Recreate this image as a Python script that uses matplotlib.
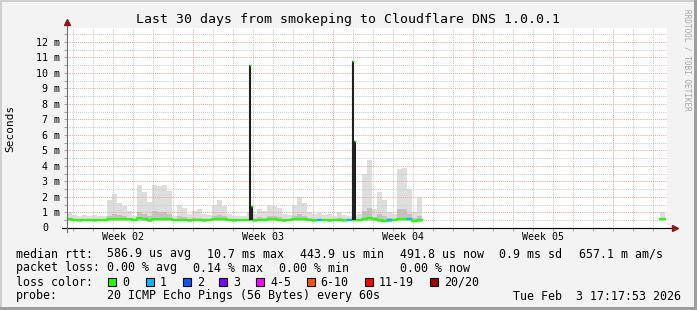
import numpy as np
import pandas as pd
import matplotlib
matplotlib.use("Agg")
import matplotlib.pyplot as plt
import matplotlib.dates as mdates
from matplotlib.patches import Rectangle
from matplotlib.ticker import MultipleLocator, FuncFormatter

MONO = "DejaVu Sans Mono"

# graph window
t_start = "2026-01-04 17:17:53"
t_end = "2026-02-03 17:17:53"

# 6 hourly bins from t_start, values in ms
median_ms = [0.55, 0.52, 0.50, 0.50, 0.51, 0.50, 0.50, 0.50, 0.55, 0.58,
             0.57, 0.56, 0.55, 0.52, 0.62, 0.58, 0.50, 0.57, 0.58, 0.58,
             0.56, 0.50, 0.52, 0.52, 0.50, 0.50, 0.52, 0.50, 0.50, 0.55,
             0.58, 0.56, 0.52, 0.50, 0.50, 0.50, 0.50, 0.50, 0.52, 0.50,
             0.55, 0.55, 0.54, 0.50, 0.50, 0.55, 0.58, 0.56, 0.52, 0.50,
             0.50, 0.50, 0.50, 0.50, 0.52, 0.50, 0.50, 0.50, 0.52, 0.58,
             0.62, 0.55, 0.50, 0.48, 0.50, 0.50, 0.56, 0.60, 0.55, 0.47,
             0.50]
smoke_hi_ms = [1.00, 0.85, 0.80, 0.85, 0.80, 0.85, 0.80, 0.75, 1.80, 2.20,
               1.60, 1.40, 1.10, 0.80, 2.80, 2.30, 1.70, 2.80, 2.70, 2.80,
               2.40, 0.80, 1.50, 1.30, 0.90, 1.10, 1.20, 0.90, 0.85, 1.50,
               1.80, 1.40, 0.90, 0.80, 0.80, 0.80, 1.00, 0.90, 1.20, 1.10,
               1.50, 1.40, 1.30, 0.90, 0.85, 1.50, 2.00, 1.60, 1.00, 0.90,
               0.95, 0.85, 0.90, 0.80, 1.00, 0.85, 0.80, 0.80, 0.90, 3.50,
               4.40, 1.20, 2.30, 1.80, 1.00, 0.90, 3.80, 3.90, 2.50, 1.00,
               2.00]
smoke_core_ms = [0.60, 0.60, 0.60, 0.60, 0.60, 0.60, 0.60, 0.60, 0.80, 0.90,
                 0.85, 0.75, 0.65, 0.60, 1.00, 0.90, 0.80, 1.10, 1.00, 1.05,
                 0.90, 0.60, 0.75, 0.70, 0.60, 0.65, 0.65, 0.60, 0.60, 0.75,
                 0.85, 0.75, 0.60, 0.60, 0.60, 0.60, 0.60, 0.60, 0.70, 0.65,
                 0.80, 0.75, 0.70, 0.60, 0.60, 0.75, 0.90, 0.80, 0.65, 0.60,
                 0.60, 0.60, 0.60, 0.60, 0.65, 0.60, 0.60, 0.60, 0.60, 1.10,
                 1.30, 0.70, 0.90, 0.80, 0.65, 0.60, 1.20, 1.20, 0.90, 0.65,
                 0.80]
smoke_lo_ms = [0.42, 0.42, 0.41, 0.42, 0.42, 0.41, 0.42, 0.42, 0.43, 0.44,
               0.43, 0.43, 0.42, 0.42, 0.45, 0.44, 0.40, 0.43, 0.44, 0.44,
               0.43, 0.42, 0.42, 0.42, 0.41, 0.42, 0.42, 0.41, 0.42, 0.43,
               0.44, 0.43, 0.42, 0.41, 0.42, 0.42, 0.42, 0.41, 0.42, 0.42,
               0.43, 0.43, 0.43, 0.41, 0.42, 0.43, 0.44, 0.43, 0.42, 0.41,
               0.42, 0.42, 0.41, 0.42, 0.42, 0.41, 0.42, 0.42, 0.42, 0.44,
               0.45, 0.43, 0.41, 0.39, 0.41, 0.42, 0.43, 0.44, 0.43, 0.38,
               0.41]
loss_bins = [50, 56, 64, 68]  # bins with 1/20 lost

# single-sample spikes (median jumped)
spike_times = ["2026-01-13 20:55", "2026-01-13 23:20", "2026-01-19 00:30", "2026-01-19 02:55"]
spike_top_ms = [10.5, 1.4, 10.8, 5.6]

# short burst of data at the very end
tail_times = ["2026-02-03 09:00", "2026-02-03 12:00", "2026-02-03 15:00"]
tail_median_ms = [0.55, 0.55]
tail_hi_ms = [1.05, 0.95]
tail_lo_ms = [0.42, 0.42]

week_centres = ["2026-01-07 12:00", "2026-01-14 12:00", "2026-01-21 12:00", "2026-01-28 12:00"]
week_labels = ["Week 02", "Week 03", "Week 04", "Week 05"]

loss_names = ["0", "1", "2", "3", "4-5", "6-10", "11-19", "20/20"]
loss_colors = ["#26ff00", "#00b8ff", "#0059ff", "#7e00ff", "#ff00ff", "#ff5500", "#ff0000", "#a00000"]

title = "Last 30 days from smokeping to Cloudflare DNS 1.0.0.1"
stat_rows = [
    ["median rtt:", "586.9 us avg", "10.7 ms max", "443.9 us min", "491.8 us now", "0.9 ms sd", "657.1 m am/s"],
    ["packet loss:", "0.00 % avg", "0.14 % max", "0.00 % min", "0.00 % now"],
]
probe_text = "20 ICMP Echo Pings (56 Bytes) every 60s"
stamp_text = "Tue Feb  3 17:17:53 2026"


def tnum(ts):
    return mdates.date2num(pd.to_datetime(ts).to_pydatetime())


W, H = 697, 310
fig = plt.figure(figsize=(W / 100, H / 100), dpi=100, facecolor="#f3f3f3")

# rrdtool style frame shading
fig.patches.append(Rectangle((0, 0), 2 / W, 1, transform=fig.transFigure, fc="#cfcfcf", ec="none"))
fig.patches.append(Rectangle((0, 1 - 2 / H), 1, 2 / H, transform=fig.transFigure, fc="#cfcfcf", ec="none"))
fig.patches.append(Rectangle((1 - 3 / W, 0), 3 / W, 1, transform=fig.transFigure, fc="#9e9e9e", ec="none"))
fig.patches.append(Rectangle((0, 0), 1, 3 / H, transform=fig.transFigure, fc="#9e9e9e", ec="none"))

ax = fig.add_axes([67 / W, (H - 228) / H, 600 / W, 200 / H])
ax.set_facecolor("white")

n = len(median_ms)
edges = tnum(pd.date_range(t_start, periods=n + 1, freq="6h"))
sec = lambda v: np.asarray(v, dtype=float) * 1e-3
med = sec(median_ms + median_ms[-1:])
hi = sec(smoke_hi_ms + smoke_hi_ms[-1:])
core = sec(smoke_core_ms + smoke_core_ms[-1:])
lo = sec(smoke_lo_ms + smoke_lo_ms[-1:])

ax.fill_between(edges, lo, hi, step="post", color="#dedede", lw=0, zorder=1)
ax.fill_between(edges, lo, core, step="post", color="#c2c2c2", lw=0, zorder=1.1)
ax.step(edges, med, where="post", color=loss_colors[0], lw=1.6, zorder=3)
for b in loss_bins:
    ax.plot(edges[b:b + 2], [med[b], med[b]], color=loss_colors[1], lw=1.6, zorder=3.1,
            solid_capstyle="butt")

# spikes
st = np.array([tnum(s) for s in spike_times])
sp_base = np.interp(st, edges, med)
ax.vlines(st, sp_base, sec(spike_top_ms), color="#202020", lw=1.5, zorder=3.2)
ax.plot(st, sec(spike_top_ms), ls="none", marker="s", ms=1.3, mew=0, color=loss_colors[0],
        zorder=3.3)

# tail
tt = tnum(tail_times)
ax.fill_between(tt, sec(tail_lo_ms + tail_lo_ms[-1:]), sec(tail_hi_ms + tail_hi_ms[-1:]),
                step="post", color="#dedede", lw=0, zorder=1)
ax.step(tt, sec(tail_median_ms + tail_median_ms[-1:]), where="post", color=loss_colors[0],
        lw=1.6, zorder=3)

ax.set_xlim(tnum(t_start), tnum(t_end))
ax.set_ylim(0, 12.9e-3)

ax.xaxis.set_major_locator(mdates.WeekdayLocator(byweekday=mdates.SU))
ax.xaxis.set_minor_locator(mdates.DayLocator())
ax.yaxis.set_major_locator(MultipleLocator(1e-3))
ax.yaxis.set_minor_locator(MultipleLocator(0.5e-3))
ax.set_axisbelow("line")
dots = (0, (1, 1))
ax.grid(which="major", color="#e8a8a8", ls=dots, lw=0.75)
ax.grid(which="minor", color="#cccccc", ls=dots, lw=0.75)
ax.tick_params(which="both", direction="out", length=2, width=0.7, color="#a0a0a0",
               labelsize=7.2, labelfontfamily=MONO, pad=3)
ax.tick_params(axis="x", which="both", labelbottom=False)
ax.yaxis.set_major_formatter(FuncFormatter(lambda v, p: "" if v < 1e-4 else "%d m" % round(v * 1e3)))
ax.text(-19 / 600, 0, "0", transform=ax.transAxes, ha="right", va="center",
        family=MONO, size=7.2)
for s in ax.spines.values():
    s.set_visible(False)

# axis lines with arrows
ax.plot([-5 / 600, 1.012], [0, 0], transform=ax.transAxes, color="black", lw=0.8,
        clip_on=False, zorder=5)
ax.plot([0, 0], [-4 / 200, 1.025], transform=ax.transAxes, color="#707070", lw=0.8,
        clip_on=False, zorder=5)
ax.plot([1.013], [0], transform=ax.transAxes, marker=">", ms=4.5, color="#8b1a1a",
        clip_on=False, zorder=6)
ax.plot([0], [1.03], transform=ax.transAxes, marker="^", ms=4.5, color="#8b1a1a",
        clip_on=False, zorder=6)

trans = ax.get_xaxis_transform()
for c, lab in zip(week_centres, week_labels):
    ax.text(tnum(c), -9 / 200, lab, transform=trans, ha="center", va="center",
            family=MONO, size=7.2)

fig.text(348 / W, 1 - 19 / H, title, ha="center", va="center", family=MONO, size=9.5)
fig.text(10.5 / W, 1 - 128 / H, "Seconds", rotation=90, ha="center", va="center",
         family=MONO, size=8)
fig.text(687.5 / W, 1 - 60 / H, "RRDTOOL / TOBI OETIKER", rotation=270, ha="center",
         va="center", family=MONO, size=5.6, color="#a8a8a8")

# legend
LS = 8.4
row_y = [254, 268, 282, 296]
stat_x = [[16, 107.3, 207.3, 300, 400, 499.3, 578.7],
          [16, 107.3, 193.3, 279.3, 400]]
for r, row in enumerate(stat_rows):
    for x, s in zip(stat_x[r], row):
        fig.text(x / W, 1 - row_y[r] / H, s, ha="left", va="center", family=MONO, size=LS)

fig.text(16 / W, 1 - row_y[2] / H, "loss color:", ha="left", va="center", family=MONO, size=LS)
box_x = [108.3, 145.7, 182.7, 219.3, 256, 306.7, 365, 430]
for x, name, col in zip(box_x, loss_names, loss_colors):
    fig.patches.append(Rectangle((x / W, 1 - (row_y[2] + 4) / H), 8 / W, 8 / H,
                                 transform=fig.transFigure, fc=col, ec="black", lw=0.8))
    fig.text((x + 14) / W, 1 - row_y[2] / H, name, ha="left", va="center", family=MONO, size=LS)

fig.text(16 / W, 1 - row_y[3] / H, "probe:", ha="left", va="center", family=MONO, size=LS)
fig.text(107.3 / W, 1 - row_y[3] / H, probe_text, ha="left", va="center", family=MONO, size=LS)
fig.text(513.3 / W, 1 - row_y[3] / H, stamp_text, ha="left", va="center", family=MONO, size=LS)

fig.savefig("out.png", dpi=100, facecolor=fig.get_facecolor())
